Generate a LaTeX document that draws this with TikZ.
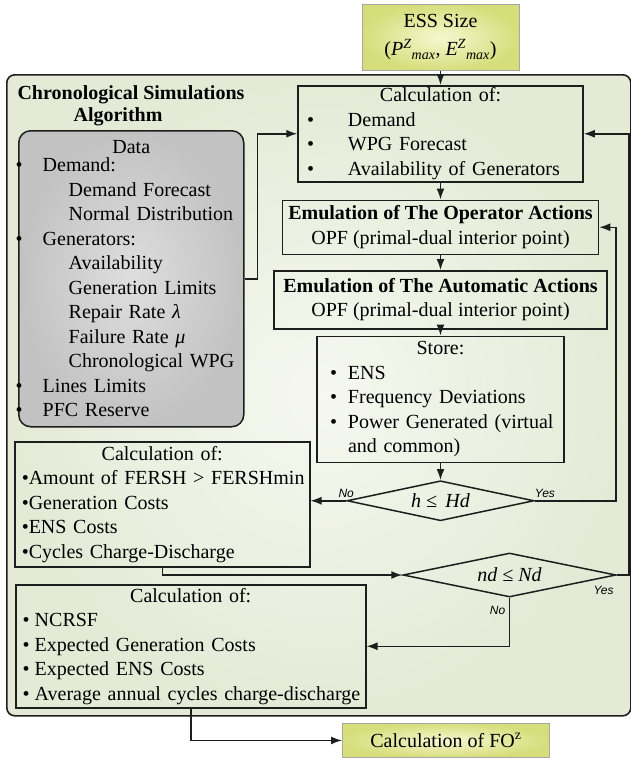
\documentclass[tikz,border=0pt]{standalone}
\usepackage{fontspec}
\setmainfont{Liberation Serif}
\newfontfamily\lblfont{Liberation Sans}
\usepackage{tikz}
\usetikzlibrary{shapes.geometric, arrows.meta, positioning}
\usepackage{xcolor}
\definecolor{linec}{RGB}{30,30,30}
\definecolor{frameIn}{RGB}{246,248,240}
\definecolor{frameOut}{RGB}{228,234,214}
\definecolor{sizeIn}{RGB}{245,248,208}
\definecolor{sizeOut}{RGB}{214,222,124}
\definecolor{dataIn}{RGB}{222,222,222}
\definecolor{dataOut}{RGB}{194,194,194}
% bullet with left indent and width of the bullet column
\newcommand{\blt}[2]{\hspace*{#1pt}\makebox[#2pt][l]{\textbullet}}

\begin{document}
\begin{tikzpicture}[
  x=1pt, y=-1pt,
  font=\fontsize{20}{24.5}\selectfont,
  >={Latex[length=11pt,width=8pt]},
  frame/.style={
    draw=linec, line width=1.6pt, rounded corners=8pt,
    inner color=frameIn, outer color=frameOut, inner sep=0pt
  },
  sizebox/.style={
    draw=gray!70, line width=0.9pt, inner color=sizeIn, outer color=sizeOut,
    inner sep=0pt, align=center
  },
  databox/.style={
    draw=linec, line width=1.5pt, rounded corners=12pt,
    inner color=dataIn, outer color=dataOut, inner sep=0pt, align=left
  },
  calcbox/.style={
    draw=linec, line width=1.5pt, inner sep=0pt, align=left
  },
  emulbox/.style={
    draw=linec, line width=1.5pt, inner sep=0pt, align=center
  },
  decision/.style={
    diamond, draw=linec, line width=1.5pt, inner sep=0pt,
    font=\fontsize{20}{24}\selectfont\itshape
  },
  arrow/.style={->, draw=linec, line width=1.5pt},
  yn/.style={font=\lblfont\fontsize{12}{14}\selectfont\itshape, inner sep=0pt}
]
\useasboundingbox (0,0) rectangle (631,758);

% Simulation frame
\node[frame, anchor=north west, minimum width=624pt, minimum height=641pt] (frame) at (6,74) {};
\node[font=\fontsize{20}{22}\selectfont\bfseries, align=center, inner sep=0pt] (title) at (131,106)
  {Chronological Simulations\\Algorithm\hspace*{26pt}};

% Input and output
\node[sizebox, anchor=north, minimum width=157pt, minimum height=66pt,
  font=\fontsize{20}{28}\selectfont] (ess) at (440.5,4)
  {ESS Size\\(\textit{P}\textsuperscript{\textit{Z}}\textsubscript{\textit{max}}, \textit{E}\textsuperscript{\textit{Z}}\textsubscript{\textit{max}})};
\node[sizebox, anchor=north west, minimum width=207pt, minimum height=34pt] (fo) at (342,723)
  {Calculation of FO\textsuperscript{z}};

% Data
\node[databox, anchor=north west, text width=225pt, minimum height=296pt] (data) at (18,130)
  {\centering Data\par\vspace{-6pt}\raggedright
   \blt{-3}{27}Demand:\\
   \hspace*{50pt}Demand Forecast\\
   \hspace*{50pt}Normal Distribution\\
   \blt{-3}{27}Generators:\\
   \hspace*{50pt}Availability\\
   \hspace*{50pt}Generation Limits\\
   \hspace*{50pt}Repair Rate \textit{λ}\\
   \hspace*{50pt}Failure Rate \textit{μ}\\
   \hspace*{50pt}Chronological WPG\\
   \blt{-3}{27}Lines Limits\\
   \blt{-3}{27}PFC Reserve};

% Main chain
\node[calcbox, anchor=north, text width=285pt, minimum height=96pt] (calcIn) at (440.5,85)
  {\centering Calculation of:\par\raggedright
   \blt{9}{41}Demand\\
   \blt{9}{41}WPG Forecast\\
   \blt{9}{41}Availability of Generators};
\node[emulbox, below=17pt of calcIn, minimum width=316pt, minimum height=54pt] (oper)
  {\textbf{Emulation of The Operator Actions}\\OPF (primal-dual interior point)};
\node[emulbox, below=15pt of oper, minimum width=333pt, minimum height=58pt] (auto)
  {\textbf{Emulation of The Automatic Actions}\\OPF (primal-dual interior point)};
\node[calcbox, below=6pt of auto, text width=247pt, minimum height=126pt] (store)
  {\centering Store:\par\raggedright
   \blt{13}{18}ENS\\
   \blt{13}{18}Frequency Deviations\\
   \blt{13}{18}Power Generated (virtual\\
   \hspace*{31pt}and common)};
\node[decision, below=17pt of store, aspect=4.675, minimum width=187pt, minimum height=40pt] (hDec)
  {h ≤ \,Hd};
\node[decision, aspect=4.84, minimum width=213pt, minimum height=44pt] (ndDec) at (509.5,575)
  {nd ≤ Nd};

% Results
\node[calcbox, anchor=north west, text width=295pt, minimum height=125pt] (calcDay) at (14,441)
  {\centering Calculation of:\par\raggedright
   \hspace*{7pt}\textbullet Amount of FERSH > FERSHmin\\
   \hspace*{7pt}\textbullet Generation Costs\\
   \hspace*{7pt}\textbullet ENS Costs\\
   \hspace*{7pt}\textbullet Cycles Charge-Discharge};
\node[calcbox, anchor=north west, text width=350pt, minimum height=123pt] (calcYear) at (15,584)
  {\centering Calculation of:\par\raggedright
   \blt{7}{12}NCRSF\\
   \blt{7}{12}Expected Generation Costs\\
   \blt{7}{12}Expected ENS Costs\\
   \blt{7}{12}Average annual cycles charge-discharge};

% Yes / No labels
\node[yn, above=3pt of hDec.west] (hNo) {No};
\node[yn, above right=3pt and 0pt of hDec.east] (hYes) {Yes};
\node[yn, below left=11pt and 3pt of ndDec.east] (ndYes) {Yes};
\node[yn, below left=8pt and 4pt of ndDec.south] (ndNo) {No};

% Arrows
\draw[arrow] (ess) -- (calcIn);
\draw[arrow] (data.east) -- ++(13,0) |- (calcIn.west);
\draw[arrow] (calcIn) -- (oper);
\draw[arrow] (oper) -- (auto);
\draw[arrow] (auto) -- (store);
\draw[arrow] (store) -- (hDec);
\draw[arrow] (hDec.west) -- (calcDay.east |- hDec.west);
\draw[arrow] (hDec.east) -- ++(81,0) |- (oper.east);
\draw[arrow] (calcDay.south) |- (ndDec.west);
\draw[arrow] (ndDec.east) -- ++(12,0) |- (calcIn.east);
\draw[arrow] (ndDec.south) |- (calcYear.east);
\draw[arrow] (calcYear.south) |- (fo.west);

\end{tikzpicture}
\end{document}
